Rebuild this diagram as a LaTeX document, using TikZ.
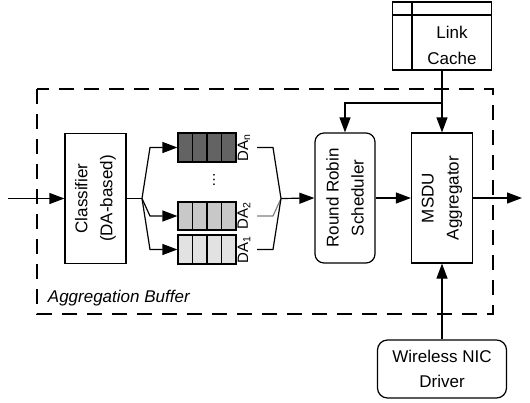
\documentclass[tikz,border=0pt]{standalone}
\usepackage{fontspec}
\setmainfont{Liberation Sans}
\usetikzlibrary{arrows.meta,calc}
\begin{document}
\begin{tikzpicture}[x=1pt,y=-1pt,
  line width=1.2pt,
  arr/.style={-{Triangle[length=15pt,width=11pt]}},
  box/.style={draw, line width=1.2pt, minimum width=61pt, minimum height=130pt, inner sep=0pt,
    font=\fontsize{17}{25}\selectfont, align=center},
  qbox/.style={draw, line width=1.2pt, minimum width=58pt, minimum height=29pt, inner sep=0pt},
  dalab/.style={rotate=90, font=\fontsize{15}{17}\selectfont, inner sep=0pt},
  txt/.style={font=\fontsize{17}{25}\selectfont, align=center}]
\useasboundingbox (0,0) rectangle (530,402);

% dashed aggregation buffer
\draw[line width=2.8pt, dash pattern=on 15pt off 10pt] (37,89) rectangle (493,314);
\node[anchor=west, font=\fontsize{17}{20}\selectfont\itshape] (ab) at (44,298) {Aggregation Buffer};

% classifier
\node[box] (cls) at (95.5,198.5) {};
\node[txt, rotate=90] (clst) at (cls.center) {Classifier\\(DA-based)};

% queues
\definecolor{qdark}{HTML}{636363}
\definecolor{qmid}{HTML}{C8C8C8}
\definecolor{qlight}{HTML}{E2E2E2}
\node[qbox, fill=qdark] (qn) at (207,147.5) {};
\node[qbox, fill=qmid, minimum height=28pt] (q2) at (207,216) {};
\node[qbox, fill=qlight] (q1) at (207,249.5) {};
\foreach \q in {qn,q2,q1}{
  \foreach \k in {1,2,3}{
    \draw ($(\q.north west)!\k/4!(\q.north east)$) -- ($(\q.south west)!\k/4!(\q.south east)$);
  }
}
\node[rotate=90, font=\fontsize{15}{15}\selectfont, inner sep=0pt] (dots) at (214,180) {…};

% DA labels
\node[dalab] (ln) at (244,147.5) {DA\textsubscript{n}};
\node[dalab] (l2) at (244,216) {DA\textsubscript{2}};
\node[dalab] (l1) at (244,249.5) {DA\textsubscript{1}};

% fan out from classifier
\coordinate (in) at (8,198.5);
\draw[arr] (in) -- (cls.west);
\coordinate (f) at (142,198.5);
\draw (cls.east) -- (f);
\draw[arr] (f) -- (150,147.5) -- (qn.west);
\draw[arr] (f) -- (150,216) -- (q2.west);
\draw[arr] (f) -- (150,249.5) -- (q1.west);

% scheduler
\node[box, rounded corners=9pt, minimum width=60pt] (sch) at (345,198) {};
\node[txt, rotate=90] (scht) at (sch.center) {Round Robin\\Scheduler};

% fan in
\coordinate (m) at (281,198.5);
\draw (257,147.5) -- (273,147.5) -- (m);
\draw[gray] (257,216) -- (273,216) -- (m);
\draw (257,249.5) -- (273,249.5) -- (m);
\draw[arr] (m) -- (sch.west);

% aggregator
\node[box] (agg) at (442,198) {};
\node[txt, rotate=90] (aggt) at (agg.center) {MSDU\\Aggregator};
\draw[arr] (sch.east) -- (agg.west);
\coordinate (out) at (522,198);
\draw[arr] (agg.east) -- (out);

% link cache
\node[draw, line width=1.2pt, minimum width=99pt, minimum height=68pt, inner sep=0pt] (lc) at (442,36) {};
\draw (lc.north west |- 0,15) -- (lc.north east |- 0,15);
\draw (412,0 |- lc.north) -- (412,0 |- lc.south);
\node[txt, font=\fontsize{17}{26}\selectfont] (lct) at (452,45) {Link\\Cache};
\coordinate (b) at (442,103);
\draw[arr] (lc.south) -- (agg.north);
\draw[arr] (b) -| (sch.north);

% NIC driver
\node[draw, line width=1.2pt, rounded corners=10pt, minimum width=129pt, minimum height=58pt, inner sep=0pt,
  font=\fontsize{17}{25}\selectfont, align=center] (nic) at (442,369) {Wireless NIC\\Driver};
\draw[arr] (nic.north) -- (agg.south);
\end{tikzpicture}
\end{document}
